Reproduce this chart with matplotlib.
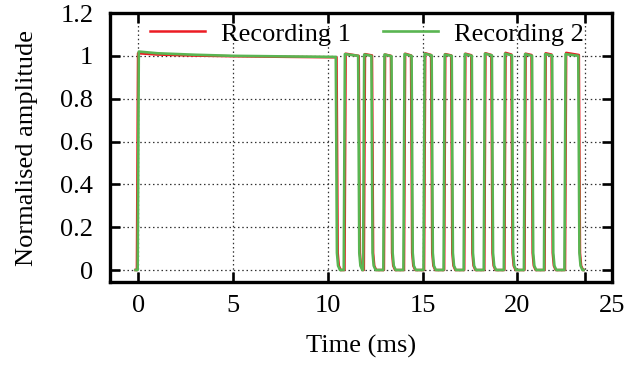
import numpy as np
import matplotlib
matplotlib.use("Agg")
import matplotlib.pyplot as plt

# ---- data (times in ms, amplitudes normalised) ----
start_t = -0.15
end_t = 23.5

# first long plateau: knots of the slow droop
plateau_t = [0.0, 1.0, 3.0, 5.0, 8.0]
plateau_rec1 = [1.012, 1.006, 1.001, 0.998, 0.995]
plateau_rec2 = [1.020, 1.012, 1.005, 1.000, 0.997]

# pulse edges
rise_rec1 = [-0.08, 10.88, 11.90, 12.96, 14.02, 15.08, 16.14, 17.20, 18.26, 19.32, 20.38, 21.44, 22.52]
fall_rec1 = [10.46, 11.63, 12.33, 13.33, 14.39, 15.45, 16.51, 17.57, 18.63, 19.69, 20.75, 21.81, 23.25]
rise_rec2 = [-0.04, 10.84, 11.86, 12.93, 13.99, 15.05, 16.11, 17.17, 18.23, 19.29, 20.35, 21.41, 22.49]
fall_rec2 = [10.42, 11.60, 12.30, 13.36, 14.42, 15.48, 16.54, 17.60, 18.66, 19.72, 20.78, 21.84, 23.22]

# pulse top levels (just after the rise, just before the fall)
peak_rec1 = [1.012, 1.010, 1.008, 1.006, 1.010, 1.012, 1.008, 1.010, 1.012, 1.014, 1.010, 1.012, 1.014]
end_rec1 = [0.993, 1.000, 1.002, 1.000, 1.002, 1.004, 1.002, 1.003, 1.004, 1.006, 1.004, 1.006, 1.004]
peak_rec2 = [1.020, 1.008, 1.006, 1.006, 1.008, 1.010, 1.006, 1.008, 1.010, 1.010, 1.008, 1.008, 1.008]
end_rec2 = [0.995, 1.000, 1.000, 0.998, 1.000, 1.002, 1.000, 1.000, 1.002, 1.002, 1.000, 1.002, 1.000]

labels = ["Recording 1", "Recording 2"]
colors = ["#ec1c24", "#5ab552"]

x_ticks = [0, 5, 10, 15, 20, 23.6, 25]
x_ticklabels = ["0", "5", "10", "15", "20", "", "25"]
y_ticks = [0, 0.2, 0.4, 0.6, 0.8, 1.0, 1.2]
y_ticklabels = ["0", "0.2", "0.4", "0.6", "0.8", "1", "1.2"]


def trace(rises, falls, peaks, ends, plat_levels):
    t = [start_t]
    v = [0.0]
    for i, (r, f, p, e) in enumerate(zip(rises, falls, peaks, ends)):
        t += [r, r + 0.06]
        v += [0.0, p]
        if i == 0:
            for pt, pl in zip(plateau_t[1:], plat_levels[1:]):
                t.append(pt)
                v.append(pl)
        t += [f, f + 0.06, f + 0.12, f + 0.22]
        v += [e, 0.08, 0.02, 0.0]
    t.append(end_t)
    v.append(0.0)
    return np.array(t), np.array(v)


plt.rcParams["font.family"] = ["Liberation Serif", "DejaVu Serif"]
plt.rcParams["font.size"] = 19

fig = plt.figure(figsize=(6.3, 3.65), dpi=100)
ax = fig.add_axes([110 / 630, 1 - 282 / 365, 502 / 630, 269 / 365])

t1, v1 = trace(rise_rec1, fall_rec1, peak_rec1, end_rec1, plateau_rec1)
t2, v2 = trace(rise_rec2, fall_rec2, peak_rec2, end_rec2, plateau_rec2)
ax.plot(t1, v1, color=colors[0], lw=1.8, label=labels[0], zorder=3)
ax.plot(t2, v2, color=colors[1], lw=1.9, label=labels[1], zorder=4)

ax.set_xlim(-1.5, 25)
ax.set_ylim(-0.056, 1.2)
ax.set_xticks(x_ticks)
ax.set_xticklabels(x_ticklabels)
ax.set_yticks(y_ticks)
ax.set_yticklabels(y_ticklabels)

ax.grid(True, color="0.2", linestyle=(0, (1.2, 2.2)), linewidth=0.9, zorder=1)
ax.tick_params(direction="in", length=7.5, width=1.9, top=True, right=True,
               color="black")
ax.tick_params(axis="x", pad=9)
ax.tick_params(axis="y", pad=12)
for s in ax.spines.values():
    s.set_linewidth(2.4)
    s.set_zorder(6)

ax.set_xlabel("Time (ms)")
ax.set_ylabel("Normalised amplitude")
ax.xaxis.set_label_coords(0.5, (282 - 335) / 269)
ax.yaxis.set_label_coords((38 - 110) / 502, 0.5)

ax.legend(loc="center", bbox_to_anchor=(0.512, 0.922), ncol=2, frameon=False,
          handlelength=2.1, handletextpad=0.6, columnspacing=1.2,
          borderpad=0.0, fontsize=19)

fig.savefig("out.png", dpi=100)
